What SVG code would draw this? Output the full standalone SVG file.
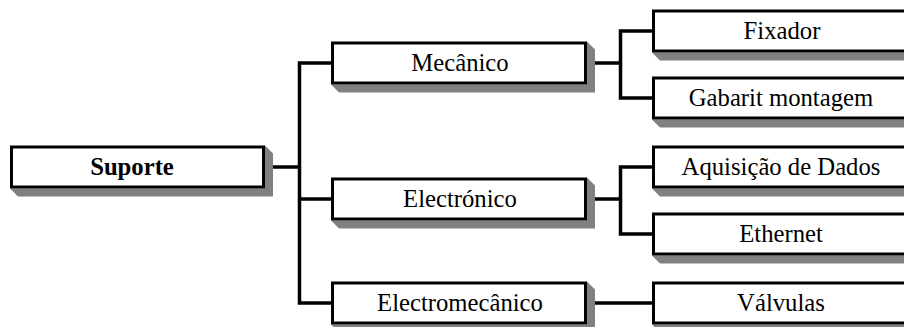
<svg xmlns="http://www.w3.org/2000/svg" width="904" height="327" viewBox="0 0 904 327">
<style>
.sh{fill:#808080;stroke:none}
.bx{fill:#ffffff;stroke:#000000;stroke-width:3}
.t{font-family:"Liberation Serif","Times New Roman",serif;font-size:24.7px;fill:#000000;text-anchor:middle}
.b{font-weight:bold}
.c{fill:none;stroke:#000000;stroke-width:3.5;stroke-linecap:butt;stroke-linejoin:miter}
</style>
<rect width="904" height="327" fill="#ffffff"/>
<g id="connectors">
<line class="c" x1="265" y1="167" x2="299.5" y2="167"/>
<polyline class="c" points="331,63 299.5,63 299.5,303 331,303"/>
<line class="c" x1="299.5" y1="199" x2="331" y2="199"/>
<line class="c" x1="587" y1="63" x2="620.5" y2="63"/>
<polyline class="c" points="652,31 620.5,31 620.5,98 652,98"/>
<line class="c" x1="587" y1="199" x2="620.5" y2="199"/>
<polyline class="c" points="652,167 620.5,167 620.5,234 652,234"/>
<line class="c" x1="587" y1="303" x2="652" y2="303"/>
</g>
<g id="suporte">
<polygon class="sh" points="10,188.5 18,196.5 273,196.5 273,153.5 265,145.5 265,188.5"/>
<rect class="bx" x="11.5" y="147" width="252" height="40"/>
<text class="t b" x="132" y="175">Suporte</text>
</g>
<g id="mecanico">
<polygon class="sh" points="331,84.5 339,92.5 595,92.5 595,49.5 587,41.5 587,84.5"/>
<rect class="bx" x="332.5" y="43" width="253" height="40"/>
<text class="t" x="460" y="71">Mecânico</text>
</g>
<g id="electronico">
<polygon class="sh" points="331,220.5 339,228.5 595,228.5 595,185.5 587,177.5 587,220.5"/>
<rect class="bx" x="332.5" y="179" width="253" height="40"/>
<text class="t" x="460" y="207">Electrónico</text>
</g>
<g id="electromecanico">
<polygon class="sh" points="331,324.5 339,332.5 595,332.5 595,289.5 587,281.5 587,324.5"/>
<rect class="bx" x="332.5" y="283" width="253" height="40"/>
<text class="t" x="460" y="311">Electromecânico</text>
</g>
<g id="fixador">
<polygon class="sh" points="652,52.5 660,60.5 920,60.5 920,52.5"/>
<rect class="bx" x="653.5" y="11" width="256" height="40"/>
<text class="t" x="782" y="39">Fixador</text>
</g>
<g id="gabarit">
<polygon class="sh" points="652,119.5 660,127.5 920,127.5 920,119.5"/>
<rect class="bx" x="653.5" y="78" width="256" height="40"/>
<text class="t" x="781" y="106">Gabarit montagem</text>
</g>
<g id="aquisicao">
<polygon class="sh" points="652,188.5 660,196.5 920,196.5 920,188.5"/>
<rect class="bx" x="653.5" y="147" width="256" height="40"/>
<text class="t" x="781" y="175">Aquisição de Dados</text>
</g>
<g id="ethernet">
<polygon class="sh" points="652,255.5 660,263.5 920,263.5 920,255.5"/>
<rect class="bx" x="653.5" y="214" width="256" height="40"/>
<text class="t" x="781" y="242">Ethernet</text>
</g>
<g id="valvulas">
<polygon class="sh" points="652,324.5 660,332.5 920,332.5 920,324.5"/>
<rect class="bx" x="653.5" y="283" width="256" height="40"/>
<text class="t" x="781" y="311">Válvulas</text>
</g>
</svg>
